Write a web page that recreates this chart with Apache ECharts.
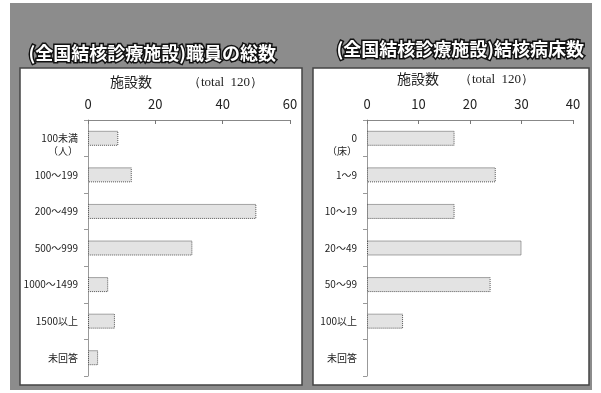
<!DOCTYPE html>
<html>
<head>
<meta charset="utf-8">
<script src="https://cdn.jsdelivr.net/npm/echarts@6/dist/echarts.min.js"></script>
<style>
  html, body { margin: 0; padding: 0; background: #fff; }
  #chart { width: 601px; height: 393px; }
</style>
</head>
<body>
<div id="chart"></div>
<script>
// left panel: 職員の総数
let staffCats = ['\n100未満\n（人）', '100〜199', '200〜499', '500〜999', '1000〜1499', '1500以上', '未回答'];
let staffVals = [9, 13, 50, 31, 6, 8, 3];
let staffTicks = { min: 0, max: 60, interval: 20 };
// right panel: 結核病床数
let bedCats = ['\n0\n（床）', '1〜9', '10〜19', '20〜49', '50〜99', '100以上', '未回答'];
let bedVals = [17, 25, 17, 30, 24, 7, 0];
let bedTicks = { min: 0, max: 40, interval: 10 };

let titles = ['(全国結核診療施設)職員の総数', '(全国結核診療施設)結核病床数'];
let jp = '"Noto Sans CJK JP", "Noto Sans", sans-serif';

let chart = echarts.init(document.getElementById('chart'));

function xAxisOf(idx, t) {
  return {
    gridIndex: idx, type: 'value', position: 'top',
    min: t.min, max: t.max, interval: t.interval,
    axisLine: { show: true, lineStyle: { color: '#888', width: 1 } },
    axisTick: { show: true, inside: true, length: 4, lineStyle: { color: '#777' } },
    axisLabel: { color: '#222', fontSize: 13, fontFamily: jp, margin: 9 },
    splitLine: { show: false }
  };
}
function yAxisOf(idx, cats) {
  return {
    gridIndex: idx, type: 'category', inverse: true, data: cats,
    axisLine: { show: true, lineStyle: { color: '#999', width: 1 } },
    axisTick: { show: true, length: 4, lineStyle: { color: '#999' } },
    axisLabel: { color: '#222', fontSize: 10, fontFamily: jp, margin: 10, lineHeight: 13 }
  };
}
function barOf(idx, vals) {
  return {
    type: 'bar', xAxisIndex: idx, yAxisIndex: idx, barWidth: 15,
    // 0 件のカテゴリは棒を描かない
    data: vals.map(v => v === 0 ? null : v),
    itemStyle: { color: '#e3e3e3', borderColor: '#555', borderWidth: 1, borderType: 'dotted' },
    silent: true
  };
}
function titleText(x, y, s) {
  return {
    type: 'text', left: x, top: y, z: 10,
    style: { text: s, fill: '#fff', stroke: '#111', lineWidth: 3, font: 'bold 18px ' + jp }
  };
}
function smallText(x, y, s, font) {
  return { type: 'text', left: x, top: y, z: 10, style: { text: s, fill: '#222', font: font } };
}

let option = {
  animation: false,
  backgroundColor: '#fff',
  grid: [
    { left: 88, top: 120, width: 202, height: 256 },
    { left: 367, top: 120, width: 206, height: 256 }
  ],
  xAxis: [xAxisOf(0, staffTicks), xAxisOf(1, bedTicks)],
  yAxis: [yAxisOf(0, staffCats), yAxisOf(1, bedCats)],
  series: [barOf(0, staffVals), barOf(1, bedVals)],
  graphic: [
    { type: 'rect', shape: { x: 10, y: 3, width: 582, height: 387 }, style: { fill: '#8c8c8c' }, z: -10 },
    { type: 'rect', shape: { x: 20, y: 68, width: 282, height: 317 }, style: { fill: '#fff', stroke: '#444', lineWidth: 1.5 }, z: -9 },
    { type: 'rect', shape: { x: 313, y: 68, width: 276, height: 317 }, style: { fill: '#fff', stroke: '#444', lineWidth: 1.5 }, z: -9 },
    titleText(27, 43, titles[0]),
    titleText(335, 39, titles[1]),
    smallText(110, 75, '施設数', '14px ' + jp),
    smallText(188, 76, '（total  120）', '13px "Liberation Serif", serif'),
    smallText(397, 72, '施設数', '14px ' + jp),
    smallText(459, 73, '（total  120）', '13px "Liberation Serif", serif')
  ]
};
chart.setOption(option);
</script>
</body>
</html>
